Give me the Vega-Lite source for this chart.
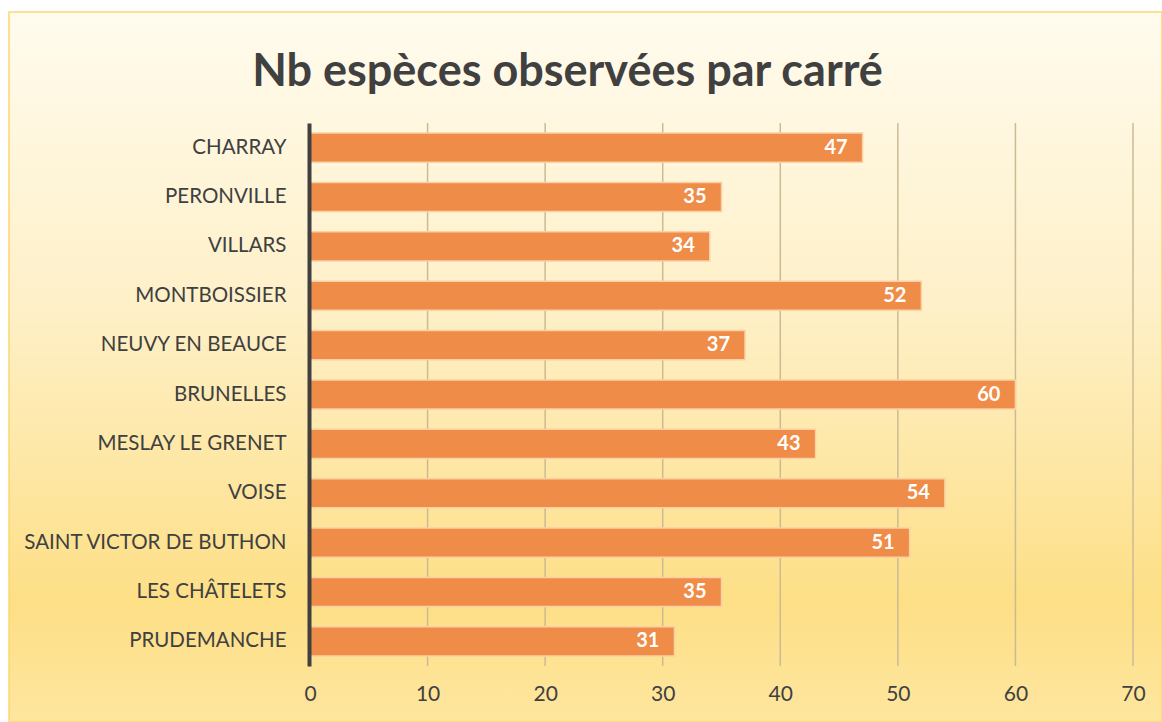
{
  "$schema": "https://vega.github.io/schema/vega-lite/v6.json",
  "width": 1153,
  "height": 710,
  "autosize": {"type": "none"},
  "padding": {"left": 9, "top": 12, "right": 0, "bottom": 0},
  "background": "#ffffff",
  "title": {
    "text": "Nb espèces observées par carré",
    "font": "Lato",
    "fontSize": 45,
    "fontWeight": "bold",
    "color": "#404040",
    "anchor": "middle",
    "baseline": "alphabetic",
    "offset": -71,
    "dy": 48,
    "dx": -18
  },
  "config": {
    "view": {
      "fill": {
        "gradient": "linear",
        "x1": 0, "y1": 0, "x2": 0, "y2": 1,
        "stops": [
          {"offset": 0, "color": "#fffbee"},
          {"offset": 0.41, "color": "#fef0c8"},
          {"offset": 0.62, "color": "#fee8a8"},
          {"offset": 0.83, "color": "#fddf86"},
          {"offset": 1, "color": "#fee69f"}
        ]
      },
      "stroke": "#fdd86e",
      "strokeWidth": 1.5
    },
    "font": "Lato"
  },
  "datasets": {
    "carres": [
      {"carre": "CHARRAY", "Nb": 47},
      {"carre": "PERONVILLE", "Nb": 35},
      {"carre": "VILLARS", "Nb": 34},
      {"carre": "MONTBOISSIER", "Nb": 52},
      {"carre": "NEUVY EN BEAUCE", "Nb": 37},
      {"carre": "BRUNELLES", "Nb": 60},
      {"carre": "MESLAY LE GRENET", "Nb": 43},
      {"carre": "VOISE", "Nb": 54},
      {"carre": "SAINT VICTOR DE BUTHON", "Nb": 51},
      {"carre": "LES CHÂTELETS", "Nb": 35},
      {"carre": "PRUDEMANCHE", "Nb": 31}
    ],
    "grid": [
      {"Nb": 10}, {"Nb": 20}, {"Nb": 30}, {"Nb": 40}, {"Nb": 50}, {"Nb": 60}, {"Nb": 70}
    ]
  },
  "layer": [
    {
      "data": {"name": "grid"},
      "mark": {"type": "rule", "color": "#cbbb94", "strokeWidth": 1.5},
      "encoding": {
        "x": {"field": "Nb", "type": "quantitative", "scale": {"domain": [0, 70], "range": [301, 1124]}},
        "y": {"datum": 0, "type": "quantitative", "scale": {"domain": [0, 1], "range": [111, 654]}, "axis": null},
        "y2": {"datum": 1}
      }
    },
    {
      "data": {"name": "carres"},
      "layer": [
        {
          "mark": {"type": "bar", "color": "#ef8c47", "stroke": "#fbd0a6", "strokeWidth": 1.5},
          "encoding": {
            "y": {
              "field": "carre", "type": "nominal", "sort": null,
              "scale": {"range": [111, 654], "paddingInner": 0.41, "paddingOuter": 0.205},
              "axis": {
                "title": null,
                "offset": -300,
                "ticks": false,
                "domainColor": "#404040",
                "domainWidth": 4,
                "labelFont": "Lato",
                "labelFontSize": 20.5,
                "labelColor": "#404040",
                "labelPadding": 23,
                "labelLimit": 400,
                "zindex": 1
              }
            },
            "x": {
              "field": "Nb", "type": "quantitative",
              "scale": {"domain": [0, 70], "range": [301, 1124]},
              "axis": {
                "title": null,
                "offset": -56,
                "grid": false,
                "domain": false,
                "ticks": false,
                "labelFlush": false,
                "values": [0, 10, 20, 30, 40, 50, 60, 70],
                "labelFont": "Lato",
                "labelFontSize": 21,
                "labelColor": "#404040",
                "labelPadding": 17
              }
            }
          }
        },
        {
          "mark": {"type": "text", "align": "right", "baseline": "middle", "dx": -15, "color": "#ffffff", "font": "Lato", "fontSize": 20, "fontWeight": "bold"},
          "encoding": {
            "y": {"field": "carre", "type": "nominal", "sort": null},
            "x": {"field": "Nb", "type": "quantitative"},
            "text": {"field": "Nb", "type": "quantitative"}
          }
        }
      ]
    }
  ],
  "resolve": {"scale": {"y": "independent"}}
}
